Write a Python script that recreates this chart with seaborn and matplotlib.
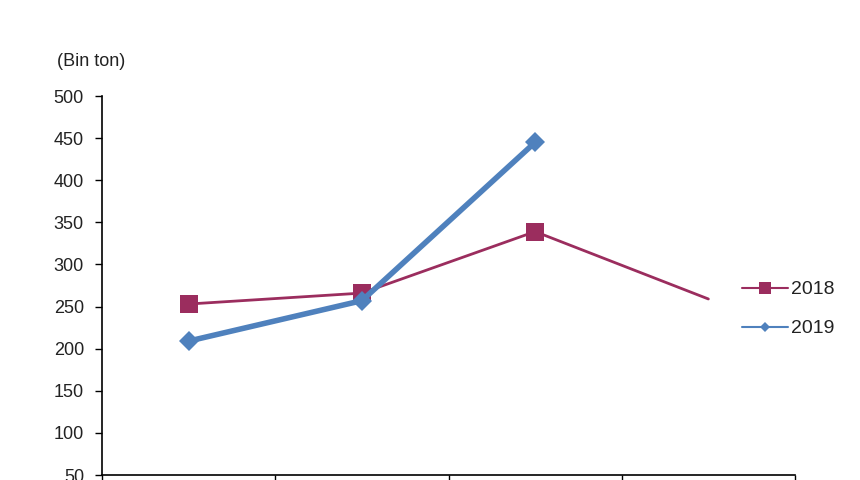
import pandas as pd
import numpy as np
import matplotlib
matplotlib.use("Agg")
import matplotlib.pyplot as plt
import seaborn as sns
from matplotlib.lines import Line2D

# Data (x labels are cut off in the source image)
QUARTERS = ["Q1", "Q2", "Q3", "Q4"]
VALUES_2018 = [253, 266, 339, 259]
VALUES_2019 = [209, 257, 445, np.nan]

COLOR_2018 = "#9b2d5e"
COLOR_2019 = "#4f81bd"

sns.set_style("white")
plt.rcParams['font.family'] = ['Liberation Sans', 'DejaVu Sans']

df = pd.DataFrame({
    "quarter": QUARTERS * 2,
    "value": VALUES_2018 + VALUES_2019,
    "year": ["2018"] * 4 + ["2019"] * 4,
})

fig = plt.figure(figsize=(8.6, 4.8), dpi=100)
ax = fig.add_axes([102 / 860, 5 / 480, 693 / 860, 379 / 480])

d18 = df[df["year"] == "2018"]
d19 = df[df["year"] == "2019"].dropna()

sns.lineplot(data=d18, x="quarter", y="value", ax=ax, color=COLOR_2018,
             linewidth=2, marker="s", markersize=13, markeredgewidth=0,
             markevery=[0, 1, 2], legend=False)
sns.lineplot(data=d19, x="quarter", y="value", ax=ax, color=COLOR_2019,
             linewidth=4, marker="D", markersize=10, markeredgewidth=0,
             legend=False)

ax.set_xlim(-0.5, 3.5)
ax.set_ylim(50, 500)
ax.set_yticks(range(50, 501, 50))
ax.set_xticks([-0.5, 0.5, 1.5, 2.5, 3.5])
ax.set_xticklabels([])
ax.set_xlabel("")
ax.set_ylabel("")
ax.tick_params(axis="y", direction="out", length=5, width=1, color="black",
               labelsize=13, labelcolor="#222222", pad=8, left=True)
ax.tick_params(axis="x", direction="out", length=8, width=1, color="black", bottom=True)
for side in ["top", "right"]:
    ax.spines[side].set_visible(False)
for side in ["left", "bottom"]:
    ax.spines[side].set_color("black")
    ax.spines[side].set_linewidth(1.2)

fig.text(57 / 860, 1 - 62 / 480, "(Bin ton)", fontsize=13, color="#222222",
         va="center", ha="left")

handles = [
    Line2D([], [], color=COLOR_2018, linewidth=1.5, marker="s", markersize=9,
           markeredgewidth=0),
    Line2D([], [], color=COLOR_2019, linewidth=1.5, marker="D", markersize=5,
           markeredgewidth=0),
]
fig.legend(handles, ["2018", "2019"], loc="center left",
           bbox_to_anchor=(724 / 860, 1 - 309 / 480), frameon=False,
           fontsize=14, handlelength=2.4, handletextpad=0.15, labelspacing=1.1,
           labelcolor="#222222")

fig.savefig("out.png", dpi=100)
